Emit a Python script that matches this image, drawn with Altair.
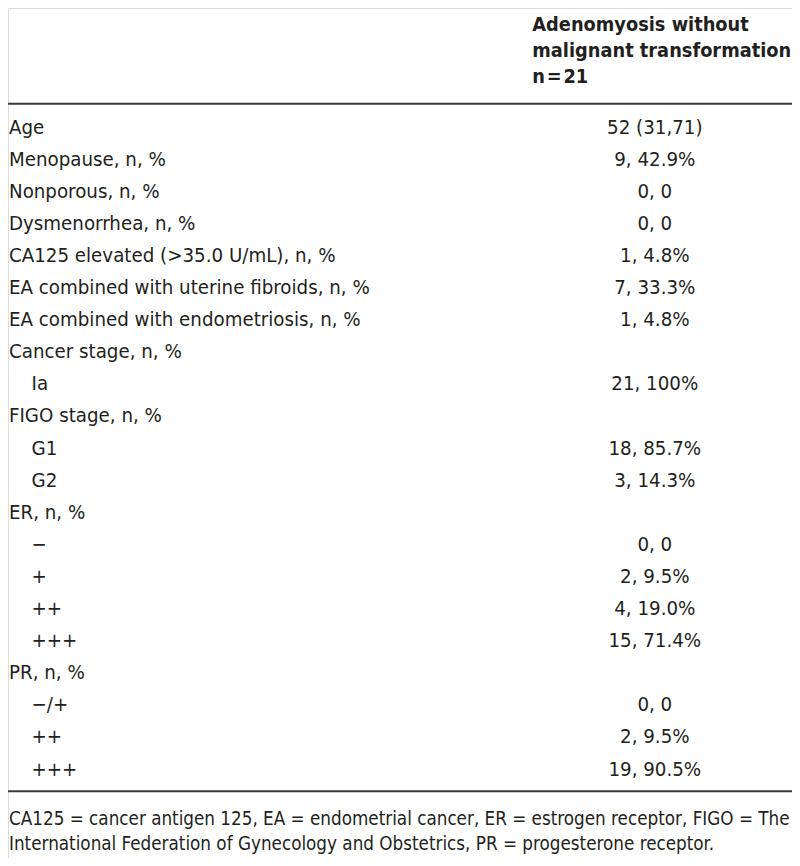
import altair as alt
import pandas as pd

header_lines = ["Adenomyosis without", "malignant transformation", "n\u200a=\u200a21"]

row_labels = [
    "Age", "Menopause, n, %", "Nonporous, n, %", "Dysmenorrhea, n, %",
    "CA125 elevated (>35.0 U/mL), n, %", "EA combined with uterine fibroids, n, %",
    "EA combined with endometriosis, n, %", "Cancer stage, n, %", "Ia",
    "FIGO stage, n, %", "G1", "G2", "ER, n, %", "\u2212", "+", "++", "+++",
    "PR, n, %", "\u2212/+", "++", "+++",
]
row_indent = [0, 0, 0, 0, 0, 0, 0, 0, 1, 0, 1, 1, 0, 1, 1, 1, 1, 0, 1, 1, 1]
row_values = [
    "52 (31,71)", "9, 42.9%", "0, 0", "0, 0", "1, 4.8%", "7, 33.3%", "1, 4.8%",
    "", "21, 100%", "", "18, 85.7%", "3, 14.3%", "", "0, 0", "2, 9.5%",
    "4, 19.0%", "15, 71.4%", "", "0, 0", "2, 9.5%", "19, 90.5%",
]
footnote_lines = [
    "CA125 = cancer antigen 125, EA = endometrial cancer, ER = estrogen receptor, FIGO = The",
    "International Federation of Gynecology and Obstetrics, PR = progesterone receptor.",
]

FONT = "DejaVu Sans Condensed, DejaVu Sans"
INK = "#231f20"
W, H = 784, 850
xs = alt.Scale(domain=[0, 800], range=[0, W])
ys = alt.Scale(domain=[0, 866], range=[0, H])

ROW0, DY = 128, 32.7

rows = pd.DataFrame({
    "label": row_labels,
    "value": row_values,
    "x": [1 + 23 * k for k in row_indent],
    "y": [ROW0 + i * DY for i in range(len(row_labels))],
})
head = pd.DataFrame({"t": header_lines, "y": [23 + 26.5 * i for i in range(3)]})
foot = pd.DataFrame({"t": footnote_lines, "y": [832 + 26 * i for i in range(2)]})
rules = pd.DataFrame({"y": [97.5, 798]})

X = lambda f: alt.X(f, type="quantitative", scale=xs, axis=None)
Y = lambda f: alt.Y(f, type="quantitative", scale=ys, axis=None)

label_layer = alt.Chart(rows).mark_text(
    align="left", baseline="alphabetic", font=FONT, fontSize=20.3, color=INK
).encode(x=X("x"), y=Y("y"), text="label:N")

value_layer = alt.Chart(rows).mark_text(
    align="center", baseline="alphabetic", font=FONT, fontSize=20.3, color=INK
).encode(x=alt.value(660 * W / 800), y=Y("y"), text="value:N")

head_layer = alt.Chart(head).mark_text(
    align="left", baseline="alphabetic", font=FONT, fontSize=19.8, fontWeight="bold", color=INK
).encode(x=alt.value(535 * W / 800), y=Y("y"), text="t:N")

foot_layer = alt.Chart(foot).mark_text(
    align="left", baseline="alphabetic", font=FONT, fontSize=18.7, color=INK
).encode(x=alt.value(1), y=Y("y"), text="t:N")

rule_layer = alt.Chart(rules).mark_rule(color="#3a3a3a", strokeWidth=2).encode(
    x=alt.value(0), x2=alt.value(W), y=Y("y")
)

chart = alt.layer(rule_layer, head_layer, label_layer, value_layer, foot_layer).properties(
    width=W, height=H, padding=0, autosize=alt.AutoSizeParams(type="none")
).configure_view(stroke="transparent", strokeWidth=0).configure(background="white")

chart.save("out.html", embed_options={"renderer": "svg", "actions": False})
